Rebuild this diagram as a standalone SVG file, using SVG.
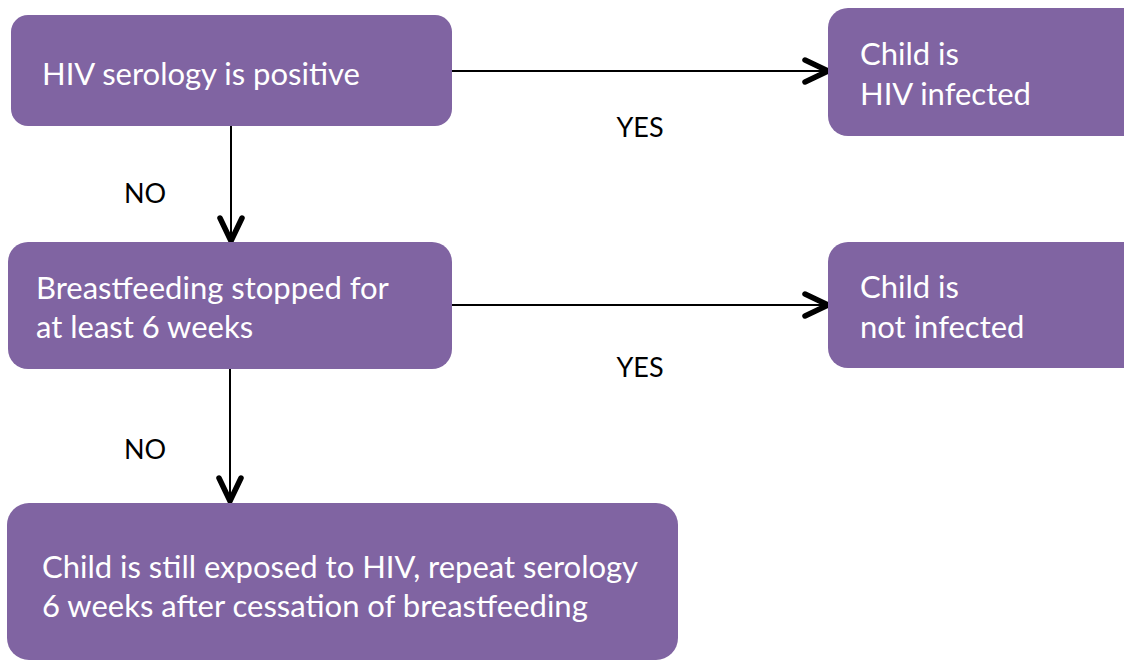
<svg xmlns="http://www.w3.org/2000/svg" width="1124" height="662" viewBox="0 0 1124 662">
  <style>
    .box { fill: #8064A2; }
    .txt { font-family: Lato, "Open Sans", "Liberation Sans", sans-serif; font-size: 31px; fill: #FFFFFF; }
    .lbl { font-family: Lato, "Open Sans", "Liberation Sans", sans-serif; font-size: 27px; fill: #000000; }
    .edge { stroke: #000000; stroke-width: 2; fill: none; }
  </style>
  <defs>
    <!-- open chevron arrowhead -->
    <marker id="chev" markerUnits="userSpaceOnUse" markerWidth="36" markerHeight="36" viewBox="-30 -16 36 32" refX="0" refY="0" orient="auto">
      <path d="M -23 -11 L 0 0 L -23 11" fill="none" stroke="#000000" stroke-width="5.5" stroke-linecap="round" stroke-linejoin="miter"/>
    </marker>
  </defs>

  <g id="connectors">
    <line class="edge" x1="452" y1="71" x2="828" y2="71" marker-end="url(#chev)"/>
    <line class="edge" x1="452" y1="305" x2="828" y2="305" marker-end="url(#chev)"/>
    <line class="edge" x1="231" y1="124" x2="231" y2="241" marker-end="url(#chev)"/>
    <line class="edge" x1="230" y1="368" x2="230" y2="501" marker-end="url(#chev)"/>
    <text class="lbl" x="640" y="137" text-anchor="middle">YES</text>
    <text class="lbl" x="640" y="377" text-anchor="middle">YES</text>
    <text class="lbl" x="145" y="203" text-anchor="middle">NO</text>
    <text class="lbl" x="145" y="459" text-anchor="middle">NO</text>
  </g>

  <g id="node-serology">
    <rect class="box" x="11" y="15" width="441" height="111" rx="17"/>
    <text class="txt" x="42" y="85">HIV serology is positive</text>
  </g>

  <g id="node-infected">
    <rect class="box" x="828" y="8" width="316" height="128" rx="20"/>
    <text class="txt" x="860" y="65">Child is</text>
    <text class="txt" x="860" y="105">HIV infected</text>
  </g>

  <g id="node-breastfeeding">
    <rect class="box" x="8" y="242" width="444" height="127" rx="20"/>
    <text class="txt" x="36" y="299">Breastfeeding stopped for</text>
    <text class="txt" x="36" y="338">at least 6 weeks</text>
  </g>

  <g id="node-not-infected">
    <rect class="box" x="828" y="242" width="316" height="126" rx="20"/>
    <text class="txt" x="860" y="298">Child is</text>
    <text class="txt" x="860" y="338">not infected</text>
  </g>

  <g id="node-repeat">
    <rect class="box" x="7" y="503" width="671" height="157" rx="22"/>
    <text class="txt" x="42" y="578">Child is still exposed to HIV, repeat serology</text>
    <text class="txt" x="42" y="617">6 weeks after cessation of breastfeeding</text>
  </g>
</svg>
